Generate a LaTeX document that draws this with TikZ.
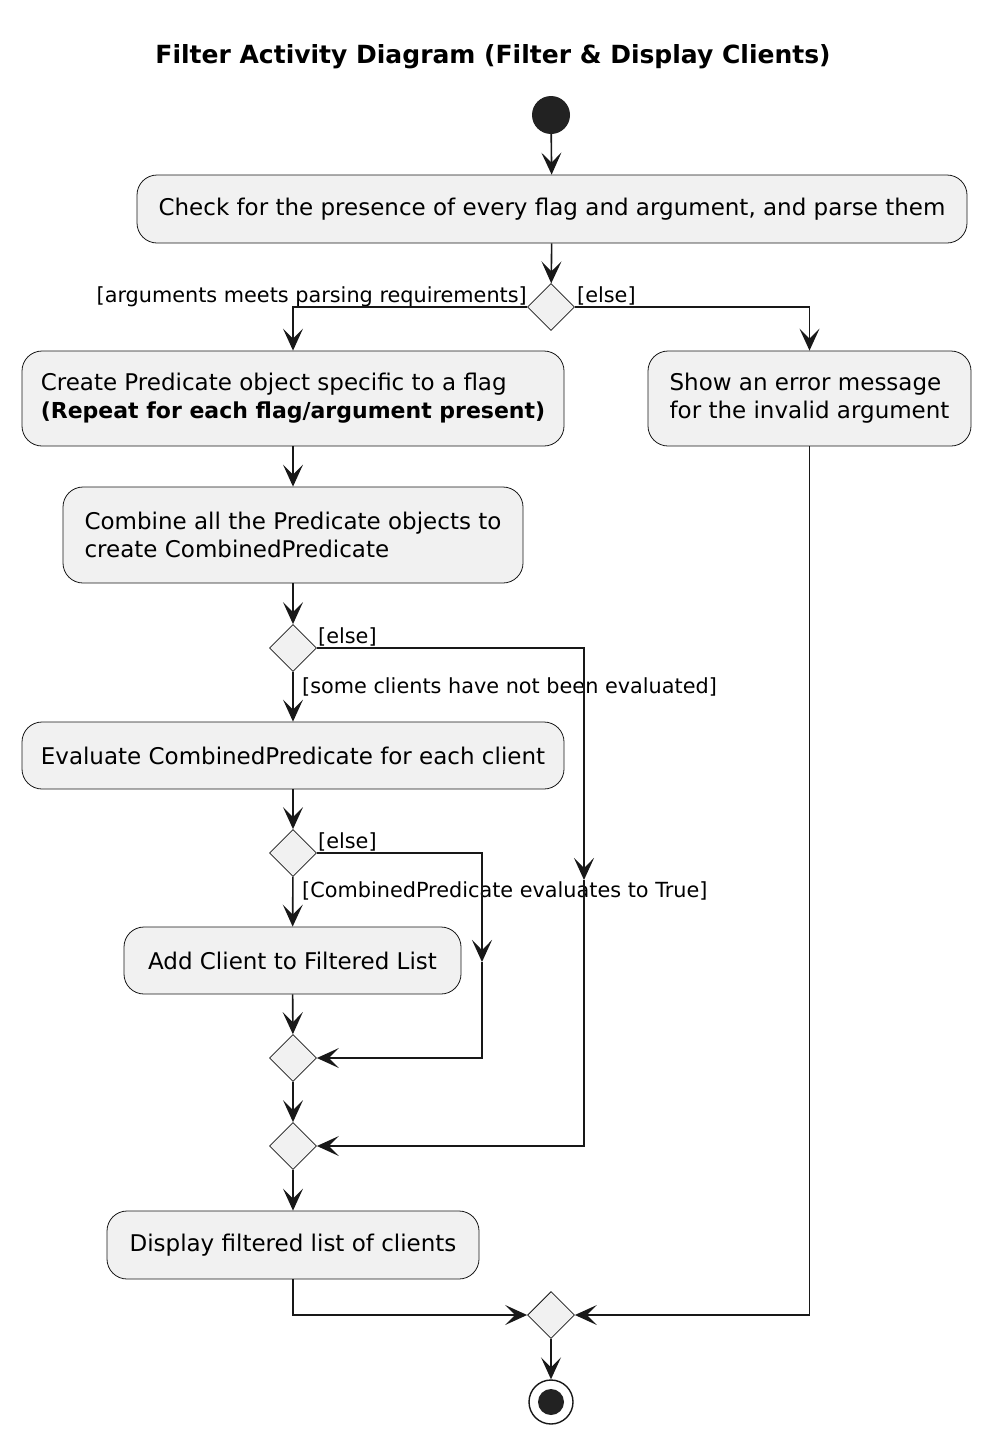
\documentclass[tikz,border=0pt]{standalone}
\usepackage{fontspec}
\setmainfont{DejaVu Sans}
\usetikzlibrary{shapes.geometric,arrows.meta}
\definecolor{boxfill}{HTML}{F1F1F1}
\definecolor{ink}{HTML}{181818}
\definecolor{dot}{HTML}{222222}
\begin{document}
\begin{tikzpicture}[x=1pt,y=-1pt,
  act/.style={draw=ink,line width=0.8pt,fill=boxfill,rounded corners=20pt,minimum height=68pt,inner sep=0pt,font=\fontsize{23}{28}\selectfont,align=left},
  dec/.style={draw=ink,line width=0.8pt,fill=boxfill,diamond,minimum width=47pt,minimum height=47pt,inner sep=0pt},
  flow/.style={draw=ink,line width=1.6pt,-{Stealth[length=22pt,width=20pt,inset=10pt]}},
  guard/.style={font=\fontsize{20.8}{24}\selectfont,inner sep=0pt}]
\useasboundingbox (0,0) rectangle (991,1443);
\fill[white] (0,0) rectangle (991,1443);
\node[font=\bfseries\fontsize{25}{30}\selectfont] (title) at (493,57) {Filter Activity Diagram (Filter \& Display Clients)};
\node[circle,fill=dot,minimum size=38pt,inner sep=0pt] (start) at (551,115) {};
\node[act,minimum width=830pt] (b1) at (552,209) {Check for the presence of every flag and argument, and parse them};
\node[dec] (d1) at (551,307) {};
\node[act,minimum width=542pt,minimum height=95pt] (b2) at (293,398.5) {Create Predicate object specific to a flag\\{\bfseries\fontsize{22}{28}\selectfont(Repeat for each flag/argument present)}};
\node[act,minimum width=323pt,minimum height=95pt] (b3) at (809.5,398.5) {Show an error message\\for the invalid argument};
\node[act,minimum width=460pt,minimum height=96pt] (b4) at (293,535) {Combine all the Predicate objects to\\create CombinedPredicate};
\node[dec] (d2) at (293,648) {};
\node[act,minimum width=542pt,minimum height=67pt] (b5) at (293,755.5) {Evaluate CombinedPredicate for each client};
\node[dec] (d3) at (293,853) {};
\node[act,minimum width=337pt,minimum height=67pt] (b6) at (292.5,960.5) {Add Client to Filtered List};
\node[dec] (d5) at (293,1058) {};
\node[dec] (d4) at (293,1146) {};
\node[act,minimum width=372pt,minimum height=68pt] (b7) at (293,1245) {Display filtered list of clients};
\node[dec] (d6) at (551,1315) {};
\node[circle,draw=ink,line width=1.4pt,fill=white,minimum size=44pt,inner sep=0pt] (end) at (551,1402) {};
\node[circle,fill=dot,minimum size=26pt,inner sep=0pt] (endin) at (end.center) {};
% guards
\node[guard,anchor=base east] (g1) at (527,302) {[arguments meets parsing requirements]};
\node[guard,anchor=base west] (g2) at (577,302) {[else]};
\node[guard,anchor=base west] (g3) at (318,643) {[else]};
\node[guard,anchor=base west] (g4) at (302,693) {[some clients have not been evaluated]};
\node[guard,anchor=base west] (g5) at (318,848) {[else]};
\node[guard,anchor=base west] (g6) at (302,897) {[CombinedPredicate evaluates to True]};
% coordinates
\coordinate (c1) at (584,648);
\coordinate (c2) at (584,880);
\coordinate (c3) at (584,1146);
\coordinate (c4) at (482,853);
\coordinate (c5) at (482,962);
\coordinate (c6) at (482,1058);
% connectors
\draw[flow] (start) -- (b1);
\draw[flow] (b1) -- (d1);
\draw[flow] (d1.west) -| (b2.north);
\draw[flow] (d1.east) -| (b3.north);
\draw[flow] (b2) -- (b4);
\draw[flow] (b4) -- (d2);
\draw[flow] (d2) -- (b5);
\draw[flow] (b5) -- (d3);
\draw[flow] (d3) -- (b6);
\draw[flow] (b6) -- (d5);
\draw[flow] (d5) -- (d4);
\draw[flow] (d4) -- (b7);
\draw[flow] (d2.east) -- (c1) -- (c2);
\draw[flow] (c2) -- (c3) -- (d4.east);
\draw[flow] (d3.east) -- (c4) -- (c5);
\draw[flow] (c5) -- (c6) -- (d5.east);
\draw[flow] (b7.south) |- (d6.west);
\draw[flow] (b3.south) |- (d6.east);
\draw[flow] (d6) -- (end);
\end{tikzpicture}
\end{document}
